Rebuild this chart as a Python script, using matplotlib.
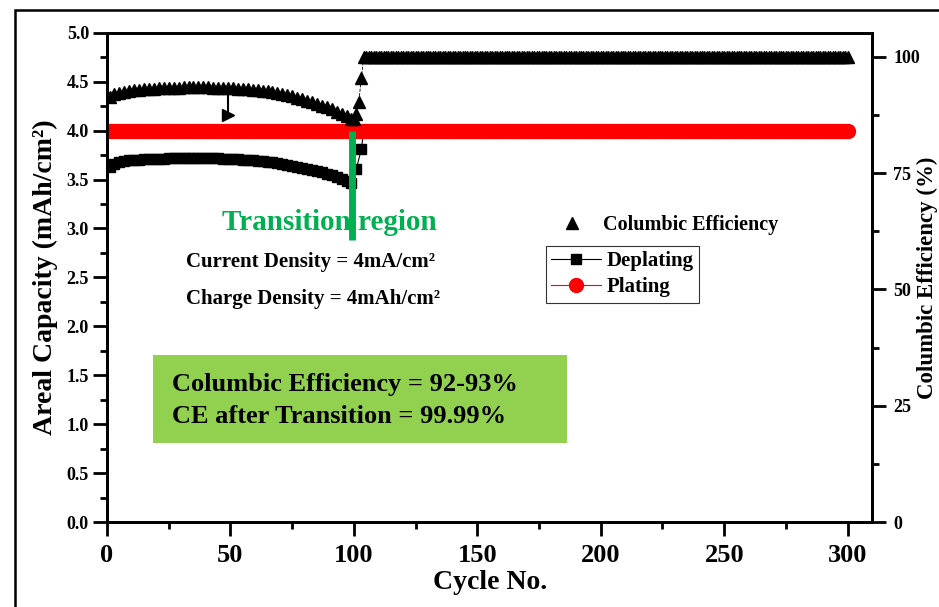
import numpy as np
import matplotlib
matplotlib.use("Agg")
import matplotlib.pyplot as plt
from matplotlib.patches import Rectangle
from matplotlib.lines import Line2D

# Columbic efficiency (%)
ce_cycles = [1, 3, 5, 7, 9, 11, 13, 15, 17, 19, 21, 23, 25, 27, 29, 31, 33, 35,
             37, 39, 41, 43, 45, 47, 49, 51, 53, 55, 57, 59, 61, 63, 65, 67, 69,
             71, 73, 75, 77, 79, 81, 83, 85, 87, 89, 91, 93, 95, 97, 99, 100,
             101, 102, 103]
ce_values = [91.3, 91.9, 92.3, 92.5, 92.7, 92.8, 92.9, 93.0, 93.1, 93.1, 93.2,
             93.2, 93.3, 93.3, 93.3, 93.4, 93.4, 93.4, 93.4, 93.4, 93.4, 93.3,
             93.3, 93.3, 93.2, 93.2, 93.1, 93.1, 93.0, 92.9, 92.8, 92.7, 92.6,
             92.4, 92.2, 92.0, 91.8, 91.5, 91.2, 90.9, 90.6, 90.2, 89.9, 89.5,
             89.1, 88.7, 88.2, 87.7, 87.2, 86.7, 86.6, 87.8, 90.3, 95.5]
ce_plateau_start = 104
ce_plateau_end = 300
ce_plateau_value = 100.0

# Deplating capacity (mAh/cm2)
dep_cycles = [1, 3, 5, 7, 9, 11, 13, 15, 17, 19, 21, 23, 25, 27, 29, 31, 33, 35,
              37, 39, 41, 43, 45, 47, 49, 51, 53, 55, 57, 59, 61, 63, 65, 67, 69,
              71, 73, 75, 77, 79, 81, 83, 85, 87, 89, 91, 93, 95, 97, 99, 101,
              103]
dep_values = [3.63, 3.66, 3.68, 3.69, 3.70, 3.70, 3.70, 3.71, 3.71, 3.71, 3.71,
              3.71, 3.72, 3.72, 3.72, 3.72, 3.72, 3.72, 3.72, 3.72, 3.72, 3.72,
              3.72, 3.71, 3.71, 3.71, 3.71, 3.70, 3.70, 3.70, 3.69, 3.69, 3.68,
              3.68, 3.67, 3.66, 3.65, 3.64, 3.63, 3.62, 3.61, 3.60, 3.59, 3.58,
              3.56, 3.55, 3.53, 3.51, 3.49, 3.46, 3.61, 3.81]
dep_plateau_start = 104
dep_plateau_value = 4.0

# Plating capacity (mAh/cm2)
plating_start = 1
plating_end = 300
plating_value = 4.0

transition_cycle = 100
arrow_cycle = 49

plt.rcParams["font.family"] = ["Liberation Serif", "DejaVu Serif"]
plt.rcParams["font.weight"] = "bold"
plt.rcParams["axes.labelweight"] = "bold"

fig = plt.figure(figsize=(9.39, 6.07), dpi=100)
ax = fig.add_axes([0.114, 0.140, 0.815, 0.806])
ax2 = ax.twinx()

# flat parts of the series after the transition
ce_x = np.concatenate([ce_cycles, np.arange(ce_plateau_start, ce_plateau_end + 1)])
ce_y = np.concatenate([ce_values, np.full(ce_plateau_end - ce_plateau_start + 1, ce_plateau_value)])
dep_x = np.concatenate([dep_cycles, np.arange(dep_plateau_start, plating_end + 1)])
dep_y = np.concatenate([dep_values, np.full(plating_end - dep_plateau_start + 1, dep_plateau_value)])
pl_x = np.arange(plating_start, plating_end + 1)
pl_y = np.full(len(pl_x), plating_value)

ax.plot(dep_x, dep_y, color="black", lw=0.8, marker="s", ms=7, mec="black",
        mfc="black", zorder=3)
ax.plot(pl_x, pl_y, color="red", lw=0.8, marker="o", ms=10, mec="red",
        mfc="red", zorder=4)

ax2.plot(ce_x, ce_y, ls="none", marker="^", ms=9, color="black", zorder=3)
ax2.plot(ce_x[-200:], ce_y[-200:], color="black", lw=0.6, ls="--", zorder=2)

# odd little arrow in the CE band
ax2.plot([arrow_cycle, arrow_cycle], [92.0, 87.6], color="black", lw=1.5)
ax2.plot([arrow_cycle], [87.4], marker=">", ms=9, color="black")

# transition marker
ax.plot([transition_cycle - 0.8, transition_cycle - 0.8], [4.0, 2.88],
        color="#00b050", lw=5, solid_capstyle="butt", zorder=5)

ax.set_xlim(0, 310)
ax.set_ylim(0, 5.0)
ax2.set_ylim(0, 105.16)

ax.set_xticks([0, 50, 100, 150, 200, 250, 300])
ax.set_xticks(np.arange(25, 310, 50), minor=True)
ax.set_yticks(np.arange(0, 5.01, 0.5))
ax.set_yticks(np.arange(0.25, 5.0, 0.5), minor=True)
ax.set_yticklabels(["%.1f" % v for v in np.arange(0, 5.01, 0.5)])
ax2.set_yticks([0, 25, 50, 75, 100])
ax2.set_yticks([12.5, 37.5, 62.5, 87.5], minor=True)

for a in (ax, ax2):
    for s in a.spines.values():
        s.set_linewidth(2)
    a.tick_params(which="major", direction="out", length=10, width=2)
    a.tick_params(which="minor", direction="out", length=5, width=2)
ax.tick_params(axis="x", labelsize=19, pad=6)
ax.tick_params(axis="y", labelsize=13, pad=3)
ax2.tick_params(axis="y", labelsize=13, pad=5)

ax.set_xlabel("Cycle No.", fontsize=20, labelpad=2)
ax.set_ylabel("Areal Capacity (mAh/cm²)", fontsize=20, labelpad=6)
ax2.set_ylabel("Columbic Efficiency (%)", fontsize=16.5, labelpad=-2)

ax.text(90, 3.06, "Transition region", color="#00b050", fontsize=21,
        ha="center", va="center", zorder=6)
ax.text(32, 2.66, "Current Density = 4mA/cm²", fontsize=15, ha="left", va="center")
ax.text(32, 2.28, "Charge Density = 4mAh/cm²", fontsize=15, ha="left", va="center")

ax.add_patch(Rectangle((18.6, 0.81), 167.6, 0.90, facecolor="#92d050",
                       edgecolor="none", zorder=1))
ax.text(26.5, 1.41, "Columbic Efficiency = 92-93%", fontsize=19, ha="left",
        va="center", zorder=2)
ax.text(26.5, 1.08, "CE after Transition = 99.99%", fontsize=19, ha="left",
        va="center", zorder=2)

ce_handle = Line2D([], [], ls="none", marker="^", ms=9, color="black")
leg1 = fig.legend([ce_handle], ["Columbic Efficiency"], loc="upper left",
                  bbox_to_anchor=(0.574, 0.675), frameon=False, fontsize=14.5,
                  handletextpad=0.8, handlelength=1.5)
dep_handle = Line2D([], [], color="black", lw=0.8, marker="s", ms=7)
pl_handle = Line2D([], [], color="red", lw=0.8, marker="o", ms=10)
leg2 = fig.legend([dep_handle, pl_handle], ["Deplating", "Plating"],
                  loc="upper left", bbox_to_anchor=(0.581, 0.595), fontsize=15,
                  frameon=True, fancybox=False, edgecolor="black",
                  borderpad=0.25, labelspacing=0.3, handlelength=2.4,
                  handletextpad=0.3, borderaxespad=0)
leg2.get_frame().set_linewidth(0.8)

# outer frame of the figure
fig.patches.append(Rectangle((15 / 939, -0.1), 1.2, 1.1 - 10 / 607,
                             transform=fig.transFigure, fill=False,
                             edgecolor="black", lw=1.8))

fig.savefig("out.png", dpi=100)
